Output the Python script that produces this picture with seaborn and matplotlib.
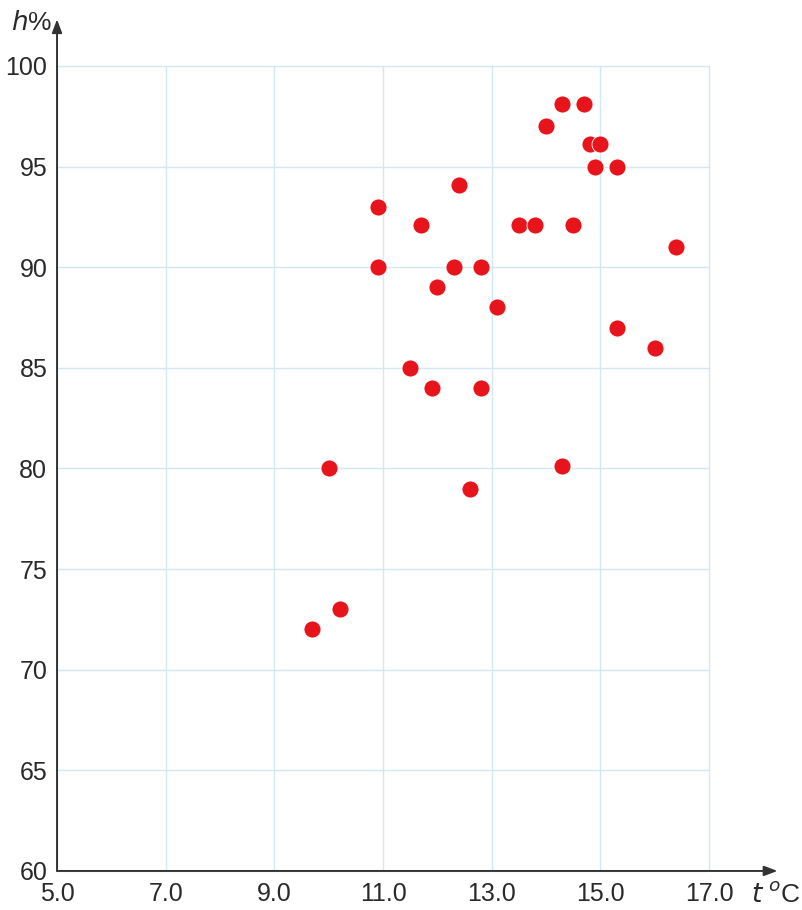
import matplotlib
matplotlib.use("Agg")
import matplotlib.pyplot as plt
import seaborn as sns
import pandas as pd

# Air temperature (°C) and relative humidity (%) observations
temperature = [14.3, 14.7, 14.0, 14.8, 15.0, 14.9, 15.3, 12.4, 10.9, 11.7,
               13.5, 13.8, 14.5, 16.4, 10.9, 12.3, 12.8, 12.0, 13.1, 15.3,
               16.0, 11.5, 11.9, 12.8, 10.0, 14.3, 12.6, 10.2, 9.7]
humidity = [98.1, 98.1, 97.0, 96.1, 96.1, 95.0, 95.0, 94.1, 93.0, 92.1,
            92.1, 92.1, 92.1, 91.0, 90.0, 90.0, 90.0, 89.0, 88.0, 87.0,
            86.0, 85.0, 84.0, 84.0, 80.0, 80.1, 79.0, 73.0, 72.0]
x_ticks = [5.0, 7.0, 9.0, 11.0, 13.0, 15.0, 17.0]
y_ticks = [60, 65, 70, 75, 80, 85, 90, 95, 100]

df = pd.DataFrame({"t": temperature, "h": humidity})

sns.set_style("white")
plt.rcParams["font.family"] = ["Liberation Sans", "DejaVu Sans"]

fig = plt.figure(figsize=(8.02, 9.10), dpi=100)
ax = fig.add_axes([0.0711, 0.0429, 0.813, 0.8846])

sns.scatterplot(data=df, x="t", y="h", ax=ax, s=150, color="#e8141c",
                edgecolor="white", linewidth=0.6, zorder=5, legend=False)

ax.set_xlim(5.0, 17.0)
ax.set_ylim(60, 100)
ax.set_xticks(x_ticks)
ax.set_xticklabels([f"{v:.1f}" for v in x_ticks])
ax.set_yticks(y_ticks)
ax.set_yticklabels([str(v) for v in y_ticks])
ax.tick_params(axis="both", length=0, colors="#2a2a2a")
ax.tick_params(axis="x", labelsize=18, pad=8)
ax.tick_params(axis="y", labelsize=18, pad=7)
ax.grid(True, color="#d2e8f5", linewidth=1.0)
for gl in ax.get_xgridlines() + ax.get_ygridlines():
    gl.set_clip_on(False)
ax.set_axisbelow(True)
ax.set_xlabel("")
ax.set_ylabel("")

for side in ["top", "right", "left", "bottom"]:
    ax.spines[side].set_visible(False)

# Axis lines drawn as arrows extending past the plotting area
arrow_kw = dict(arrowstyle="-|>,head_length=0.8,head_width=0.3",
                color="#333333", lw=1.4, shrinkA=0, shrinkB=0)
ax.annotate("", xy=(1.105, 0), xytext=(0, 0), xycoords="axes fraction",
            textcoords="axes fraction", arrowprops=arrow_kw, annotation_clip=False)
ax.annotate("", xy=(0, 1.058), xytext=(0, 0), xycoords="axes fraction",
            textcoords="axes fraction", arrowprops=arrow_kw, annotation_clip=False)

fig.text(0.040, 0.975, r"$\mathit{h}$%", fontsize=19, ha="center", va="center",
         color="#2a2a2a")
fig.text(0.968, 0.017, r"$\mathit{t}$ $^{\mathit{o}}$C", fontsize=19, ha="center",
         va="center", color="#2a2a2a")

fig.savefig("out.png", dpi=100)
